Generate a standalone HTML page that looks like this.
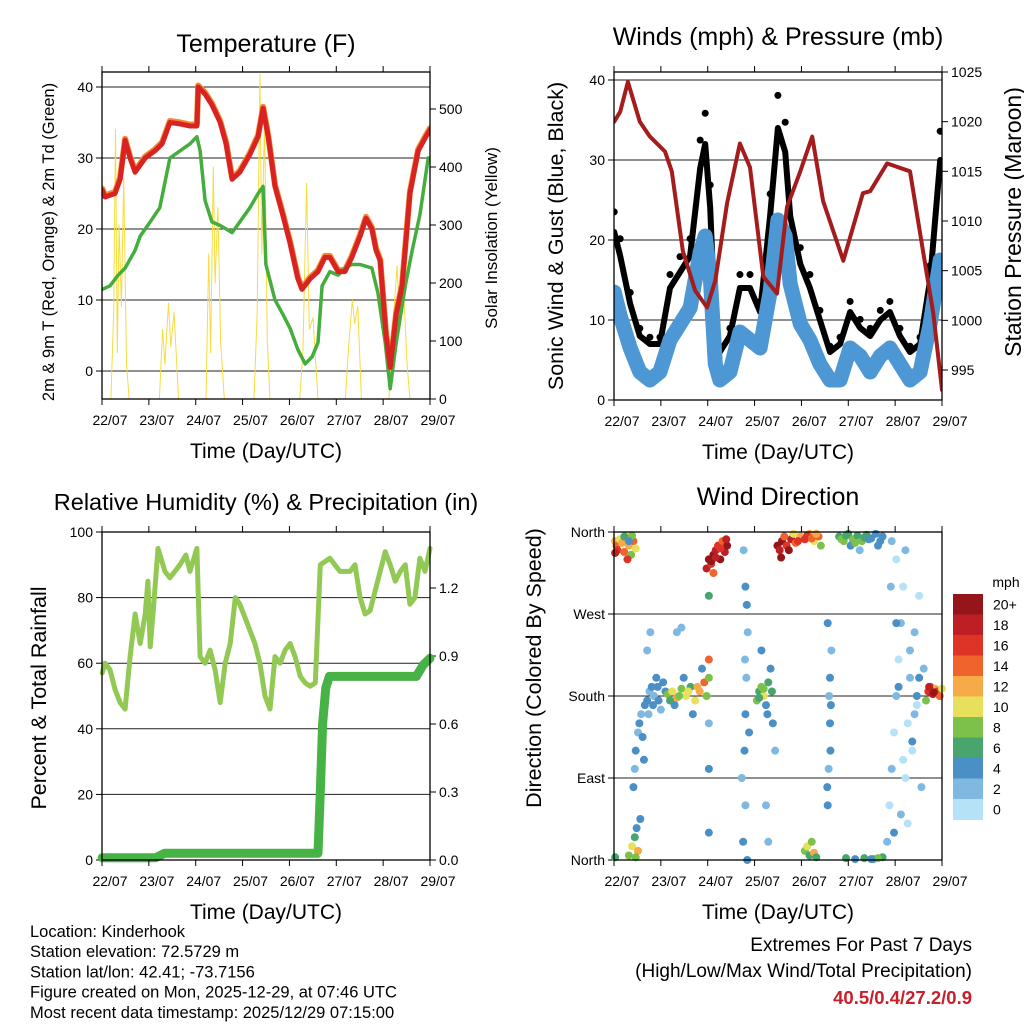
<!DOCTYPE html>
<html><head><meta charset="utf-8"><style>
html,body{margin:0;padding:0;background:#fff;}
svg{display:block;font-family:"Liberation Sans",sans-serif;}
</style></head><body>
<svg id="c" width="1024" height="1024" viewBox="0 0 1024 1024"></svg>
<script>
const dayLabels = ["22/07","23/07","24/07","25/07","26/07","27/07","28/07","29/07"];
// Temperature panel
const tT = [-0.17,-0.11,0.11,0.22,0.33,0.44,0.55,0.77,0.98,1.14,1.31,1.53,1.75,1.90,1.93,2.08,2.23,2.41,2.54,2.67,2.84,3.06,3.24,3.35,3.46,3.61,3.78,3.94,4.11,4.20,4.38,4.55,4.70,4.81,4.99,5.14,5.29,5.47,5.60,5.73,5.82,5.91,6.04,6.13,6.26,6.39,6.56,6.74,6.91,7.0];
const temp2m = [25.5,24.5,25,27,32.5,30,28,30,31,32,35,34.8,34.5,34.5,40,39,37.5,35,32,27,28,30.5,33,37,33,26,22,18,13,11.5,13,14,16,16,14,14,16,19,21.5,20,17,15.5,5,0.5,8,12,25,31,33,34];
const tTd = [-0.17,0,0.18,0.33,0.55,0.66,0.77,0.88,1.09,1.31,1.53,1.75,1.90,1.97,2.08,2.23,2.41,2.54,2.67,2.84,3.06,3.24,3.35,3.41,3.61,3.78,3.94,4.11,4.27,4.42,4.55,4.64,4.81,4.99,5.14,5.29,5.47,5.73,5.86,6.02,6.13,6.26,6.46,6.61,6.78,6.96];
const dew2m = [11.5,12,13.5,14.5,17,19,20,21,23,30,31,32,33,31,24,21,20.5,20,19.5,21,23,25,26,15,10,8,6,3,1,2,4,12,14,13.5,14.5,15,15,14.5,11,4,-2.5,4,12,17,22,30];
const tSol = [-0.17,0.02,0.08,0.12,0.16,0.2,0.25,0.3,0.36,0.42,1.08,1.15,1.2,1.28,1.33,1.4,1.5,2.1,2.16,2.2,2.26,2.3,2.36,2.42,2.5,3.15,3.22,3.28,3.32,3.38,3.44,3.5,4.15,4.22,4.3,4.36,4.44,4.55,5.15,5.22,5.3,5.35,5.42,5.5,6.1,6.2,6.28,6.34,6.42,6.5,6.56,7.0];
const solar = [0,0,150,465,80,300,160,380,60,0,0,120,60,165,90,150,0,0,250,80,400,200,330,100,0,0,150,560,250,480,100,0,0,80,372,120,140,0,0,90,170,130,160,0,0,140,230,120,190,60,0,0];
// Wind panel
const tW = [-0.17,-0.04,0.18,0.39,0.61,0.83,1.05,1.27,1.49,1.71,1.82,1.93,2.04,2.14,2.36,2.58,2.8,3.02,3.24,3.41,3.57,3.68,3.9,4.11,4.33,4.55,4.77,4.99,5.21,5.43,5.65,5.86,6.08,6.3,6.52,6.74,6.96];
const windSpd = [14,11,7,4,3,4,8,10,12,19,21,16,5,3,4,9,8,7,14,23,21,15,10,8,5,3,3,7,6,4,6,7,5,3,4,10,18];
const windGust = [21,18,12,8,7,7,14,16,18,29,32,24,9,6,8,14,14,11,23,34,31,23,17,14,10,6,7,11,9,8,10,11,8,6,7,15,30];
const tP = [-0.17,-0.04,0.13,0.39,0.61,0.94,1.09,1.33,1.6,1.86,2.04,2.3,2.58,2.8,3.09,3.39,3.61,3.9,4.16,4.4,4.84,5.27,5.43,5.8,6.3,6.59,6.81,7.0];
const pressure = [1020,1021,1024,1020,1018.5,1017,1015,1007,1003,1001.3,1004,1011.8,1017.8,1015.4,1004.4,1002.7,1011.4,1015,1018.5,1012,1006,1012.8,1013,1015.8,1015,1006.8,1000.7,993];
// RH panel
const tRH = [-0.17,-0.11,0,0.11,0.22,0.33,0.44,0.55,0.66,0.77,0.83,0.88,0.94,1.05,1.2,1.31,1.53,1.66,1.75,1.9,1.97,2.08,2.19,2.3,2.41,2.52,2.63,2.74,2.84,2.95,3.06,3.17,3.28,3.39,3.5,3.61,3.72,3.83,3.94,4.05,4.16,4.27,4.38,4.49,4.6,4.81,5.03,5.25,5.36,5.47,5.58,5.69,5.8,5.91,6.02,6.13,6.24,6.35,6.46,6.56,6.67,6.78,6.89,7.0];
const rh = [57,60,58,52,48,46,62,75,66,75,85,65,75,95,88,86,90,93,88,95,62,60,64,58,48,60,66,80,78,74,70,66,60,50,46,62,60,64,66,62,56,54,53,54,90,92,88,88,90,80,75,76,82,88,94,90,85,88,90,78,80,92,88,95];
const tPr = [-0.17,1.0,1.2,4.55,4.6,4.65,4.72,4.8,6.7,6.85,7.0];
const precip = [0.01,0.01,0.03,0.03,0.3,0.6,0.76,0.81,0.81,0.86,0.89];
// Wind direction panel
const dirT = [-0.15,-0.12,-0.1,-0.05,0,0.05,0.1,0.15,0.2,0.25,0.3,0.12,-0.15,0.22,0.05,0.15,
 0.15,0.22,0.28,0.35,-0.15,0.3,0.32,0.4,
 0.25,0.28,0.3,0.35,0.38,0.42,0.5,0.55,0.6,0.65,0.7,0.75,0.8,0.85,0.9,0.95,0.55,0.62,0.45,0.48,0.58,0.68,0.78,
 1.0,1.1,1.2,1.3,1.4,1.5,1.6,1.7,1.8,1.85,1.15,1.35,1.55,1.75,1.9,1.9,1.9,1.2,1.3,1.05,1.25,1.45,1.65,1.9,1.9,
 1.85,1.9,1.95,2.0,2.05,2.1,2.15,2.2,2.25,2.3,2.0,1.9,1.95,2.05,2.15,2.28,
 2.65,2.7,2.68,2.72,2.75,2.7,2.66,2.74,2.7,2.62,2.78,2.69,2.73,
 2.95,3.0,3.05,3.1,3.15,3.2,3.25,3.3,3.35,3.05,3.15,3.2,3.0,3.1,3.18,3.28,
 3.4,3.45,3.5,3.6,3.7,3.8,3.9,4.0,4.1,4.2,4.3,4.35,3.55,3.75,3.48,3.65,3.85,4.05,4.15,4.25,
 4.0,4.05,4.1,4.15,4.2,4.25,
 4.5,4.52,4.55,4.55,4.58,4.5,4.53,4.56,4.49,4.57,
 4.75,4.85,4.95,5.05,5.15,5.25,5.35,5.45,5.55,5.65,5.0,5.2,4.8,4.9,5.1,5.3,5.4,5.6,5.7,
 4.9,5.1,5.3,5.5,5.7,5.6,5.45,
 5.8,5.85,5.9,5.95,6.0,6.05,6.1,6.15,6.2,6.25,6.3,6.35,6.4,6.45,6.5,6.55,6.1,5.95,6.2,6.4,5.9,6.0,6.5,6.3,6.15,6.0,5.88,6.45,6.6,6.35,6.25,6.05,
 6.7,6.75,6.8,6.85,6.9,6.95,7.0,6.65,6.82,6.72];
const dirDeg = [350,345,340,352,348,338,355,345,335,350,342,330,337,356,355,350,
 5,15,25,10,3,3,35,45,
 80,100,120,140,150,160,170,175,185,190,180,200,175,165,195,185,230,250,135,110,160,170,190,
 182,185,178,188,180,190,175,185,195,180,170,200,160,210,100,30,150,250,255,175,180,185,190,200,220,
 320,330,325,335,340,345,330,350,338,345,315,290,328,332,342,352,
 20,60,120,200,250,300,340,0,160,90,140,220,280,
 175,185,190,180,170,195,210,150,120,230,60,20,178,188,160,185,
 345,340,350,345,352,348,355,352,358,350,355,345,355,358,332,340,350,356,353,358,
 10,15,5,20,8,3,
 60,100,150,200,230,260,180,120,80,170,
 355,350,358,352,356,350,357,353,358,350,345,340,352,356,348,354,352,345,355,
 2,1,2,1,3,2,1,
 20,60,100,140,180,220,260,300,340,150,200,120,250,180,290,80,50,30,90,160,350,330,200,230,110,260,300,170,210,130,40,190,
 185,190,182,188,185,180,188,175,184,190];
const dirSpd = [12,14,16,10,12,14,10,12,8,14,10,16,18,8,6,4,
 8,10,6,12,6,8,4,4,
 4,2,4,2,4,2,4,4,2,4,2,4,4,2,4,4,2,2,4,4,2,4,4,
 8,10,12,8,10,6,10,12,14,8,4,4,4,4,4,4,2,2,2,6,8,10,12,8,14,
 18,20,16,20,18,16,20,14,18,20,14,6,20,18,16,18,
 4,2,4,2,2,4,2,4,4,2,4,2,4,
 8,6,8,10,4,6,4,4,2,4,2,2,6,8,4,6,
 20,18,20,16,18,14,12,16,12,10,14,8,14,10,20,20,16,16,14,12,
 8,10,6,8,12,6,
 4,2,4,4,2,4,2,4,4,4,
 6,8,6,8,6,8,6,4,4,4,4,2,8,6,8,6,4,4,4,
 6,4,6,4,6,8,4,
 2,0,2,0,2,0,2,0,2,0,2,0,2,4,0,2,2,4,0,2,2,0,4,2,0,4,2,0,2,4,0,4,
 16,14,18,12,16,14,10,8,20,18];
const spdColors = ["#b5e2f7","#7fb9e2","#4a8fc5","#47a56d","#7dc14a","#e8e05a","#f6ab48","#f0632c","#dd3427","#bd1f24","#94161a"];
const spdLabels = ["0","2","4","6","8","10","12","14","16","18","20+"];

const svg = document.getElementById('c');
const NS = 'http://www.w3.org/2000/svg';
function mk(tag, attrs, parent){ const e=document.createElementNS(NS,tag); for(const k in attrs) e.setAttribute(k,attrs[k]); (parent||svg).appendChild(e); return e; }
function txt(x,y,s,size,anchor,parent,extra){ const e=mk('text',Object.assign({x:x,y:y,'font-size':size,'text-anchor':anchor||'middle',fill:'#000'},extra||{}),parent); e.textContent=s; return e; }
const D0=-0.175, D1=7.0;
function xs(L,R){ return d => L + (d-D0)/(D1-D0)*(R-L); }
function ys(v0,v1,B,T){ return v => B - (v-v0)/(v1-v0)*(B-T); }
function poly(ts,vs,X,Y,stroke,w,parent,name){ const p=ts.map((t,i)=>X(t).toFixed(1)+','+Y(vs[i]).toFixed(1)).join(' ');
  const e=mk('polyline',{points:p,fill:'none',stroke:stroke,'stroke-width':w,'stroke-linejoin':'round','stroke-linecap':'round'},parent);
  
  
  return e; }
function frame(g,L,R,T,B){
  mk('rect',{x:L,y:T,width:R-L,height:B-T,fill:'none',stroke:'#000','stroke-width':1.3},g);
  [0,1,2,3,4,5,6,7].forEach(k=>{ const x=L+k*(R-L)/7;
    mk('line',{x1:x,y1:B,x2:x,y2:B+6,stroke:'#000','stroke-width':1},g);
    mk('line',{x1:x,y1:T,x2:x,y2:T-6,stroke:'#000','stroke-width':1},g);
    const lab=txt(x+8,B+26,dayLabels[k],14,'middle',g);
    
    
  });
  const xt=txt((L+R)/2,B+59,'Time (Day/UTC)',21,'middle',g);
  
  
}
function leftTicks(g,L,R,vals,Y,labels,grid){
  vals.forEach((v,i)=>{ const y=Y(v);
    if(grid) mk('line',{x1:L,y1:y,x2:R,y2:y,stroke:'#222','stroke-width':1},g);
    mk('line',{x1:L-6,y1:y,x2:L,y2:y,stroke:'#000'},g);
    const t=txt(L-9,y+5,labels[i],14,'end',g);
    
    
  });
}
function rightTicks(g,R,vals,Y,labels){
  vals.forEach((v,i)=>{ const y=Y(v);
    mk('line',{x1:R,y1:y,x2:R+6,y2:y,stroke:'#000'},g);
    const t=txt(R+9,y+5,labels[i],14,'start',g);
    
    
  });
}
function gname(name){ const g=mk('g',{});   return g; }

// Panel 1
(function(){
  const g=gname('temperature-panel'); const L=102,R=430,T=72,B=399;
  const X=xs(L,R), Y=ys(0,40,371,87), Ys=ys(0,500,399,109);
  const tt=txt(266,52,'Temperature (F)',25,'middle',g);  
  leftTicks(g,L,R,[0,10,20,30,40],Y,['0','10','20','30','40'],true);
  rightTicks(g,R,[0,100,200,300,400,500],Ys,['0','100','200','300','400','500']);
  const clip=mk('clipPath',{id:'cp1'},g); mk('rect',{x:L,y:T,width:R-L,height:B-T},clip);
  const pg=mk('g',{'clip-path':'url(#cp1)'},g);
  poly(tSol,solar,X,Ys,'#f7dc3e',1,pg,'solar-insolation-line');
  poly(tT,temp2m,X,v=>Y(v)-1.5,'#f28a30',6,pg,'temp-9m-line');
  poly(tTd,dew2m,X,Y,'#44ad3e',3.5,pg,'dewpoint-line');
  poly(tT,temp2m,X,Y,'#d92323',5,pg,'temp-2m-line');
  const a=txt(0,0,'2m & 9m T (Red, Orange) & 2m Td (Green)',16.5,'middle',g,{transform:'translate(54,242) rotate(-90)'});
   
  const b=txt(0,0,'Solar Insolation (Yellow)',17,'middle',g,{transform:'translate(497,238) rotate(-90)'});
   
  frame(g,L,R,T,B);
})();

// Panel 2
(function(){
  const g=gname('winds-pressure-panel'); const L=614,R=942,T=72,B=400;
  const X=xs(L,R), Y=ys(0,40,400,80), Yp=ys(995,1025,370,72);
  const tt=txt(778,45,'Winds (mph) & Pressure (mb)',25,'middle',g);  
  leftTicks(g,L,R,[0,10,20,30,40],Y,['0','10','20','30','40'],true);
  rightTicks(g,R,[995,1000,1005,1010,1015,1020,1025],Yp,['995','1000','1005','1010','1015','1020','1025']);
  const clip=mk('clipPath',{id:'cp2'},g); mk('rect',{x:L,y:T,width:R-L,height:B-T},clip);
  const pg=mk('g',{'clip-path':'url(#cp2)'},g);
  poly(tW,windGust,X,Y,'#000',6,pg,'gust-line');
  tW.forEach((t,i)=>{ const c=mk('circle',{cx:X(t),cy:Y(windGust[i]*1.12),r:3.5,fill:'#000'},pg);
    
     });
  poly(tW,windSpd,X,v=>Y(v)+4,'#4c97d4',15,pg,'wind-speed-band');
  poly(tP,pressure,X,Yp,'#a51c1c',4,pg,'pressure-line');
  const a=txt(0,0,'Sonic Wind & Gust (Blue, Black)',21.5,'middle',g,{transform:'translate(563,236) rotate(-90)'});
   
  const b=txt(0,0,'Station Pressure (Maroon)',23,'middle',g,{transform:'translate(1021,222) rotate(-90)'});
   
  frame(g,L,R,T,B);
})();

// Panel 3
(function(){
  const g=gname('humidity-precip-panel'); const L=102,R=430,T=532,B=860;
  const X=xs(L,R), Y=ys(0,100,860,532), Yr=ys(0,1.2,860,588);
  const tt=txt(266,510,'Relative Humidity (%) & Precipitation (in)',23.5,'middle',g);  
  leftTicks(g,L,R,[0,20,40,60,80,100],Y,['0','20','40','60','80','100'],true);
  rightTicks(g,R,[0,0.3,0.6,0.9,1.2],Yr,['0.0','0.3','0.6','0.9','1.2']);
  const clip=mk('clipPath',{id:'cp3'},g); mk('rect',{x:L-6,y:T,width:R-L+12,height:B-T+6},clip);
  const pg=mk('g',{'clip-path':'url(#cp3)'},g);
  poly(tRH,rh,X,Y,'#92c955',5,pg,'humidity-line');
  poly(tPr,precip,X,Yr,'#47b245',9,pg,'precip-line');
  const a=txt(0,0,'Percent & Total Rainfall',21.5,'middle',g,{transform:'translate(46,698) rotate(-90)'});
   
  frame(g,L,R,T,B);
})();

// Panel 4
(function(){
  const g=gname('wind-direction-panel'); const L=614,R=942,T=532,B=860;
  const X=xs(L,R), Y=ys(0,360,860,532);
  const tt=txt(778,505,'Wind Direction',25,'middle',g);  
  leftTicks(g,L,R,[0,90,180,270,360],Y,['North','East','South','West','North'],true);
  const clip=mk('clipPath',{id:'cp4'},g); mk('rect',{x:L-4,y:T-4,width:R-L+8,height:B-T+8},clip);
  const pg=mk('g',{'clip-path':'url(#cp4)'},g);
  dirT.forEach((t,i)=>{ const k=Math.min(10,Math.floor(dirSpd[i]/2));
    const c=mk('circle',{cx:X(t),cy:Y(dirDeg[i]),r:4,fill:spdColors[k]},pg);
    
     });
  const a=txt(0,0,'Direction (Colored By Speed)',21.5,'middle',g,{transform:'translate(541,668) rotate(-90)'});
   
  frame(g,L,R,T,B);
  const cb=mk('g',{},g);  
  txt(1006,587,'mph',14,'middle',cb);
  const h=20.5;
  for(let i=0;i<11;i++){ const k=10-i; const y=594+i*h;
    const r=mk('rect',{x:953,y:y,width:30,height:h+0.5,fill:spdColors[k]},cb);
     
    txt(993,y+h/2+5,spdLabels[k],14,'start',cb);
  }
})();

// Footer
(function(){
  const g=gname('station-info');
  ['Location: Kinderhook','Station elevation: 72.5729 m','Station lat/lon: 42.41; -73.7156','Figure created on Mon, 2025-12-29, at 07:46 UTC','Most recent data timestamp: 2025/12/29 07:15:00']
   .forEach((s,i)=>txt(30,937+i*20.2,s,16.5,'start',g));
  const g2=gname('extremes-summary');
  txt(972,951,'Extremes For Past 7 Days',19,'end',g2);
  txt(972,977,'(High/Low/Max Wind/Total Precipitation)',19,'end',g2);
  txt(972,1004,'40.5/0.4/27.2/0.9',18.5,'end',g2,{fill:'#c8202a','font-weight':'bold'});
})();
</script>
</body></html>
